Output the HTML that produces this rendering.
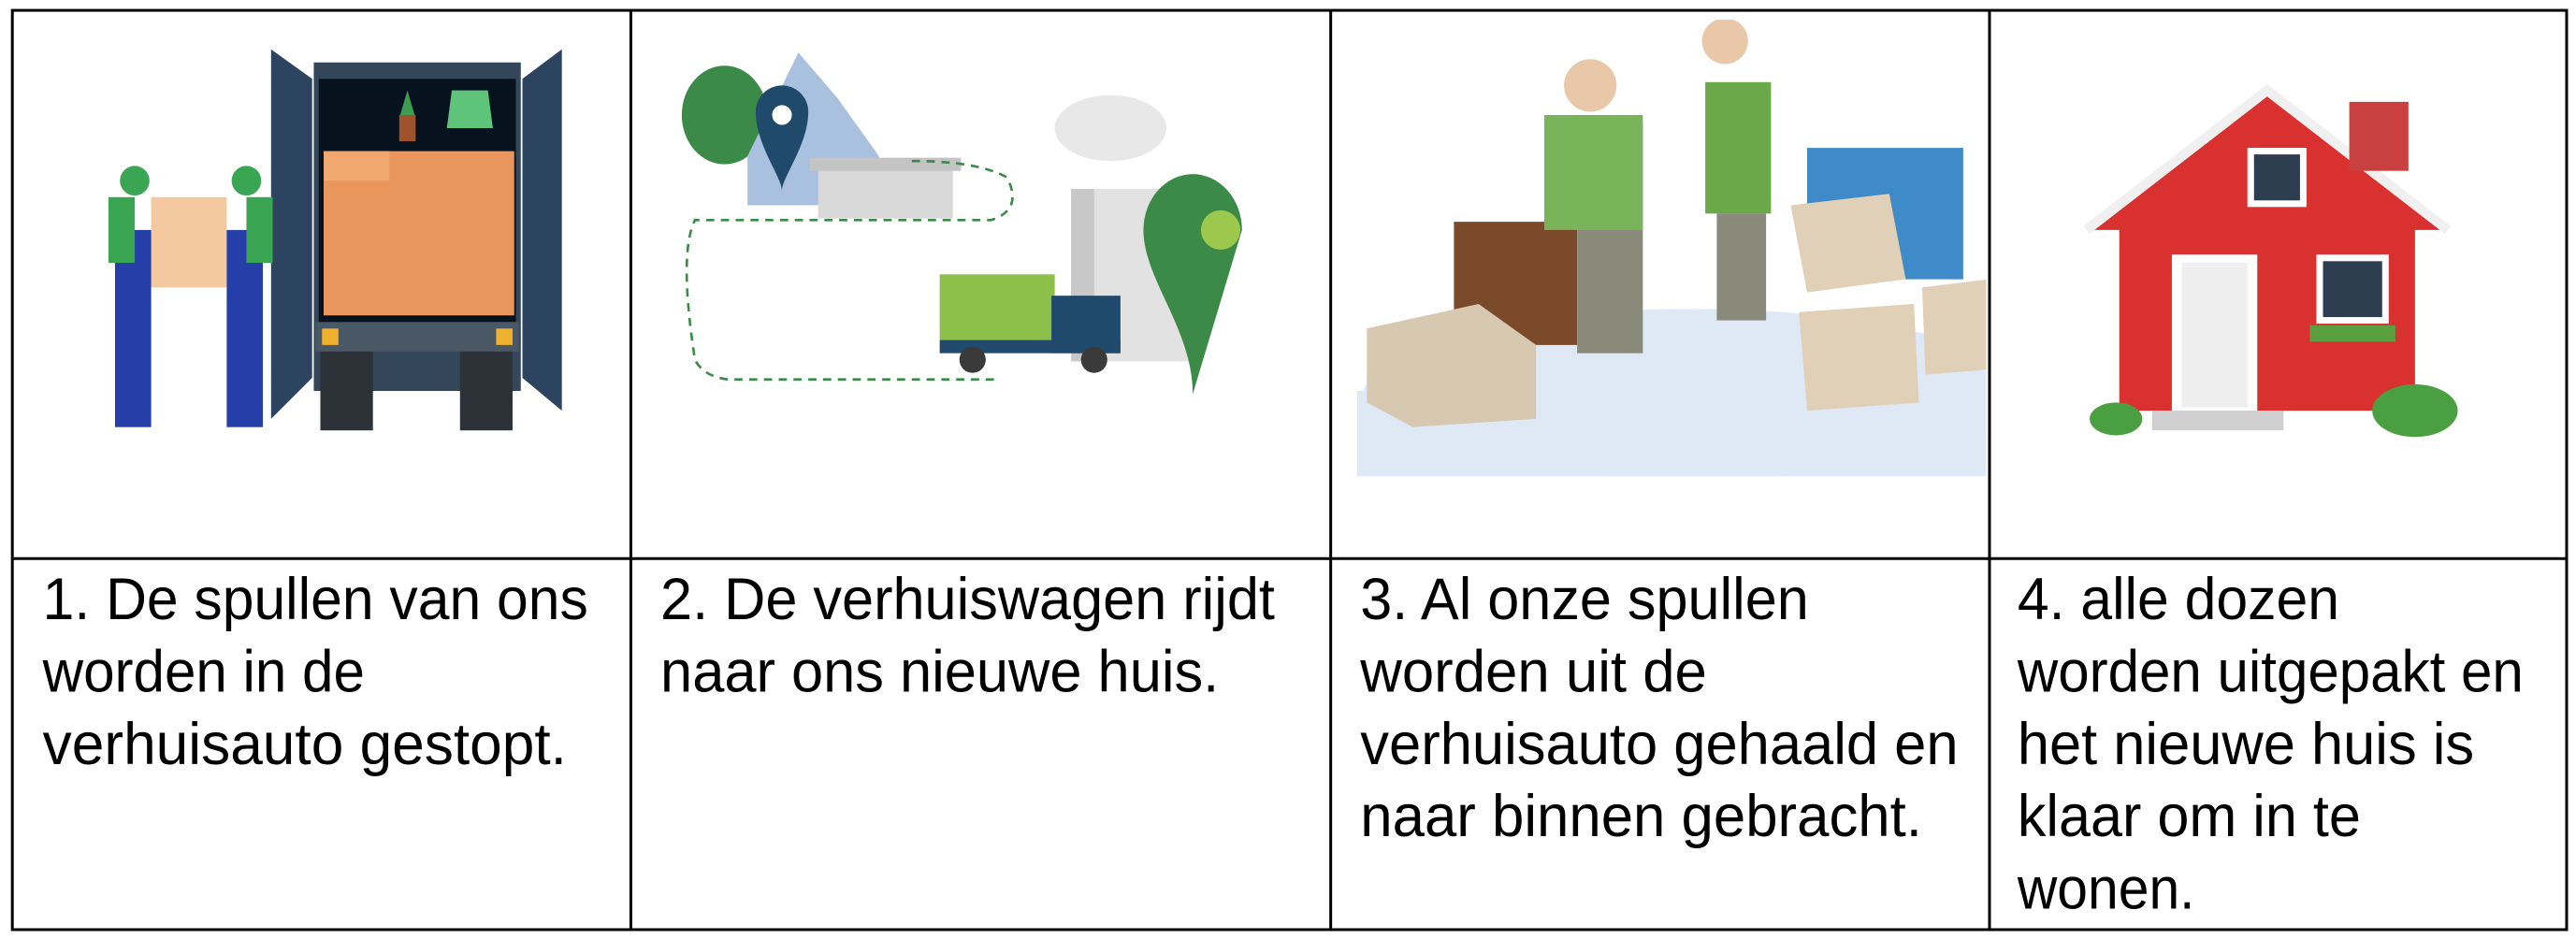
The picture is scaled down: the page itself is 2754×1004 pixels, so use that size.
<!DOCTYPE html>
<html><head><meta charset="utf-8"><style>
html,body{margin:0;padding:0;background:#fff;}
svg{display:block;}
text{font-family:"Liberation Sans",sans-serif;font-size:36px;fill:#000;}
</style></head><body>
<svg width="2754" height="1004" viewBox="0 0 1568 571.6" preserveAspectRatio="none" xmlns="http://www.w3.org/2000/svg">
<defs><clipPath id="c3"><rect x="826" y="12" width="383" height="278"/></clipPath></defs>
<rect width="1568" height="571.6" fill="#fff"/>
<g>
<polygon points="165,30 190,48 190,230 165,255" fill="#2c4460"/>
<polygon points="342,30 318,48 318,230 342,250" fill="#2c4460"/>
<rect x="191" y="38" width="126" height="200" fill="#34475a"/>
<rect x="194" y="48" width="120" height="150" fill="#06121e"/>
<rect x="197" y="92" width="116" height="100" fill="#e8965c"/>
<rect x="197" y="92" width="40" height="18" fill="#f0a870"/>
<polygon points="243,72 248,55 253,72" fill="#3f9a52"/>
<rect x="243" y="70" width="10" height="16" fill="#a0522d"/>
<polygon points="275,55 297,55 300,78 272,78" fill="#5ec47a"/>
<rect x="192" y="196" width="124" height="18" fill="#4a5866"/>
<rect x="196" y="200" width="10" height="10" fill="#f0b030"/><rect x="302" y="200" width="10" height="10" fill="#f0b030"/>
<rect x="195" y="214" width="32" height="48" fill="#2d3238"/><rect x="280" y="214" width="32" height="48" fill="#2d3238"/>
<rect x="92" y="120" width="46" height="55" fill="#f4c9a0"/>
<rect x="70" y="140" width="22" height="120" fill="#263fa8"/>
<rect x="138" y="140" width="22" height="120" fill="#263fa8"/>
<circle cx="82" cy="110" r="9" fill="#3aa552"/><circle cx="150" cy="110" r="9" fill="#3aa552"/>
<rect x="66" y="120" width="16" height="40" fill="#3aa552"/><rect x="150" y="120" width="16" height="40" fill="#3aa552"/>
</g>
<g>
<ellipse cx="441" cy="70" rx="26" ry="30" fill="#3b8a48"/>
<polygon points="486,32 455,95 455,125 535,125 535,95 510,60" fill="#a9c0de"/>
<path d="M460,68 a16,16 0 0 1 32,0 c0,20 -16,40 -16,48 c0,-8 -16,-28 -16,-48z" fill="#1f4a6b"/>
<circle cx="476" cy="70" r="6" fill="#fff"/>
<rect x="498" y="100" width="82" height="33" fill="#d8d8d8"/>
<polygon points="493,96 585,96 585,104 493,104" fill="#c4c4c4"/>
<path d="M555,98 q40,0 58,10 q10,20 -10,26 h-180 q-10,20 0,85 q5,10 20,12 h165" fill="none" stroke="#3b8a48" stroke-width="1.5" stroke-dasharray="5,4"/>
<ellipse cx="676" cy="78" rx="34" ry="20" fill="#e8e8e8"/>
<rect x="652" y="115" width="75" height="105" fill="#e2e2e2"/>
<rect x="652" y="115" width="14" height="105" fill="#c8c8c8"/>
<path d="M756,140 a30,34 0 1 0 -60,0 c0,30 30,60 30,100z" fill="#3b8a48"/>
<circle cx="743" cy="140" r="12" fill="#9cc84e"/>
<rect x="572" y="167" width="70" height="40" fill="#8dbf4b"/>
<rect x="640" y="180" width="42" height="35" fill="#1f4a6b"/>
<rect x="572" y="207" width="110" height="8" fill="#1f4a6b"/>
<circle cx="592" cy="219" r="8" fill="#3a3a3a"/><circle cx="666" cy="219" r="8" fill="#3a3a3a"/>
</g>
<g clip-path="url(#c3)">
<rect x="826" y="12" width="383" height="278" fill="#fff"/>
<ellipse cx="1030" cy="240" rx="200" ry="52" fill="#dfe9f6"/>
<rect x="826" y="238" width="383" height="52" fill="#dfe9f6"/>
<rect x="885" y="135" width="75" height="75" fill="#7a4a2a"/>
<polygon points="832,200 900,185 935,210 935,255 860,260 832,245" fill="#d7c8b2"/>
<rect x="960" y="75" width="40" height="140" fill="#8a8a7a"/>
<rect x="940" y="70" width="60" height="70" fill="#7ab45a"/>
<circle cx="968" cy="52" r="16" fill="#e8c8a8"/>
<rect x="1038" y="50" width="40" height="80" fill="#6aa84a"/>
<rect x="1045" y="130" width="30" height="65" fill="#8a8a7a"/>
<circle cx="1050" cy="25" r="14" fill="#e8c8a8"/>
<rect x="1100" y="90" width="95" height="80" fill="#3f8ac8"/>
<polygon points="1090,125 1150,118 1160,170 1100,178" fill="#e0d0b8"/>
<polygon points="1095,190 1165,185 1168,245 1100,250" fill="#e0d0b8"/>
<polygon points="1170,175 1210,170 1210,225 1172,228" fill="#e0d0b8"/>
</g>
<g>
<polygon points="1380,55 1270,140 1290,140 1290,250 1470,250 1470,140 1490,140" fill="#d93030"/>
<polyline points="1270,140 1380,55 1490,140" fill="none" stroke="#f0f0f0" stroke-width="6"/>
<rect x="1430" y="62" width="36" height="42" fill="#c94040"/>
<rect x="1368" y="90" width="36" height="36" fill="#fff"/>
<rect x="1372" y="94" width="28" height="28" fill="#2c3e50"/>
<rect x="1322" y="155" width="52" height="95" fill="#fff"/>
<rect x="1328" y="160" width="40" height="88" fill="#eeeeee"/>
<rect x="1410" y="155" width="44" height="42" fill="#fff"/>
<rect x="1414" y="159" width="36" height="34" fill="#2c3e50"/>
<rect x="1406" y="198" width="52" height="10" fill="#5aa040"/>
<rect x="1310" y="250" width="80" height="12" fill="#cfcfcf"/>
<ellipse cx="1288" cy="255" rx="16" ry="10" fill="#4aa040"/>
<ellipse cx="1470" cy="250" rx="26" ry="16" fill="#4aa040"/>
</g>
<g stroke="#000" stroke-width="1.7" fill="none">
<rect x="7.5" y="6.3" width="1554.8" height="559.6"/>
<line x1="7.5" y1="340" x2="1562" y2="340"/>
<line x1="384" y1="6" x2="384" y2="566"/>
<line x1="810" y1="6" x2="810" y2="566"/>
<line x1="1211" y1="6" x2="1211" y2="566"/>
</g>
<text x="26" y="377" textLength="332" lengthAdjust="spacingAndGlyphs">1. De spullen van ons</text>
<text x="26" y="421" textLength="196" lengthAdjust="spacingAndGlyphs">worden in de</text>
<text x="26" y="465" textLength="319" lengthAdjust="spacingAndGlyphs">verhuisauto gestopt.</text>
<text x="402" y="377" textLength="374" lengthAdjust="spacingAndGlyphs">2. De verhuiswagen rijdt</text>
<text x="402" y="421" textLength="340" lengthAdjust="spacingAndGlyphs">naar ons nieuwe huis.</text>
<text x="828" y="377" textLength="273" lengthAdjust="spacingAndGlyphs">3. Al onze spullen</text>
<text x="828" y="421" textLength="211" lengthAdjust="spacingAndGlyphs">worden uit de</text>
<text x="828" y="465" textLength="364" lengthAdjust="spacingAndGlyphs">verhuisauto gehaald en</text>
<text x="828" y="509" textLength="342" lengthAdjust="spacingAndGlyphs">naar binnen gebracht.</text>
<text x="1228" y="377" textLength="196" lengthAdjust="spacingAndGlyphs">4. alle dozen</text>
<text x="1228" y="421" textLength="308" lengthAdjust="spacingAndGlyphs">worden uitgepakt en</text>
<text x="1228" y="465" textLength="278" lengthAdjust="spacingAndGlyphs">het nieuwe huis is</text>
<text x="1228" y="509" textLength="209" lengthAdjust="spacingAndGlyphs">klaar om in te</text>
<text x="1228" y="553" textLength="108" lengthAdjust="spacingAndGlyphs">wonen.</text>
</svg>
</body></html>
